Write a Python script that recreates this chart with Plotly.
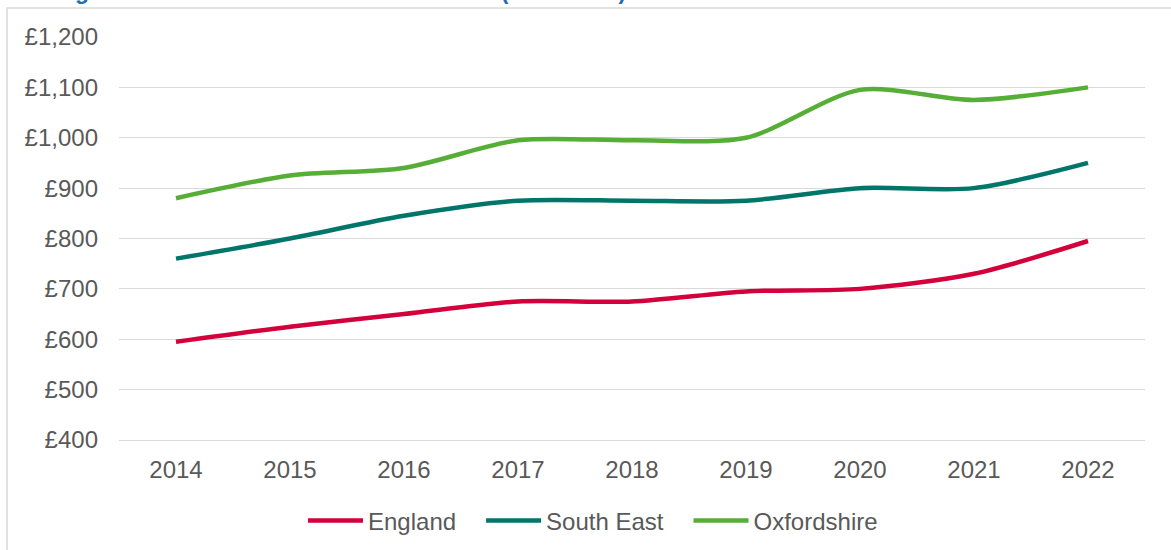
import plotly.graph_objects as go

years = ["2014", "2015", "2016", "2017", "2018", "2019", "2020", "2021", "2022"]
england = [595, 625, 650, 675, 675, 695, 700, 730, 795]
south_east = [760, 800, 845, 875, 875, 875, 900, 900, 950]
oxfordshire = [880, 925, 940, 995, 995, 1000, 1095, 1075, 1100]

y_ticks = [400, 500, 600, 700, 800, 900, 1000, 1100, 1200]
y_labels = ["£400", "£500", "£600", "£700", "£800", "£900", "£1,000", "£1,100", "£1,200"]

series = [
    ("England", england, "#D3003B"),
    ("South East", south_east, "#00766A"),
    ("Oxfordshire", oxfordshire, "#56AE37"),
]

W, H = 1171, 550
L, R, T, B = 119, 26, 37, 110
pw, ph = W - L - R, H - T - B
FONT = "Liberation Sans, Arial, sans-serif"
NBSP = "\u00a0" * 3  # extra gap between legend entries

fig = go.Figure()
for i, (name, vals, col) in enumerate(series):
    fig.add_trace(go.Scatter(
        x=years, y=vals, name=name + (NBSP if i < len(series) - 1 else ""), mode="lines",
        line=dict(color=col, width=4.5, shape="spline", smoothing=0.8),
    ))

# outer chart frame (partly off-canvas, as in the cropped source)
fig.add_shape(type="rect", xref="paper", yref="paper",
              x0=(7 - L) / pw, x1=1.2, y0=-0.5, y1=1 + (T - 8) / ph,
              line=dict(color="#D9D9D9", width=1.5), fillcolor="rgba(0,0,0,0)",
              layer="below")

# title, mostly cut off at the top edge
fig.add_annotation(
    xref="paper", yref="paper", x=(10 - L) / pw, y=1, xanchor="left", yanchor="bottom",
    yshift=T - 6, showarrow=False,
    text="<b>Average rents across the three areas shown (2014-2022)</b>",
    font=dict(color="#1F6FB2", size=23, family=FONT),
)

fig.update_layout(
    width=W, height=H,
    margin=dict(l=L, r=R, t=T, b=B, pad=0, autoexpand=False),
    paper_bgcolor="white", plot_bgcolor="white",
    font=dict(family=FONT, size=24, color="#595959"),
    xaxis=dict(range=[-0.5, 8.5], showgrid=False, zeroline=False,
               showline=True, linecolor="#D9D9D9", linewidth=1.3,
               ticks="", ticklabelstandoff=8, fixedrange=True),
    yaxis=dict(range=[400, 1200], tickvals=y_ticks, ticktext=y_labels,
               showgrid=True, gridcolor="#D9D9D9", gridwidth=1.3,
               zeroline=False, showline=False, ticks="", ticklabelstandoff=20),
    legend=dict(orientation="h", xref="container", x=(595 - 2) / W, xanchor="center",
                yref="container", y=1 - 521 / H, yanchor="middle",
                itemwidth=55, font=dict(size=24, color="#595959"),
                bgcolor="rgba(0,0,0,0)"),
    showlegend=True,
)

fig.write_html("out.html", config={"displayModeBar": False},
               post_script="document.body.style.margin='0';")
